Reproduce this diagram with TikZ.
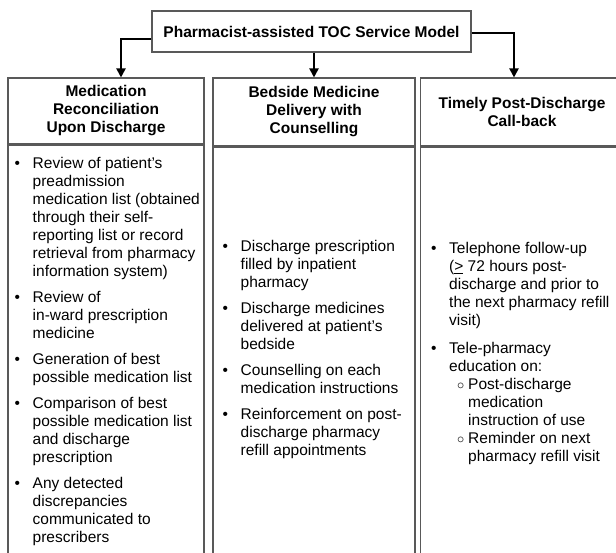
\documentclass[tikz,border=0pt]{standalone}
\usepackage{fontspec}
\setmainfont{Liberation Sans}
\usepackage{array}
\usetikzlibrary{arrows.meta, positioning}

\newcommand{\txtsize}{\fontsize{15.5}{18}\selectfont}
\tikzset{
  frame/.style={draw=black!65, line width=1.1pt},
  headcell/.style={frame, font=\txtsize\bfseries, align=center, inner sep=0pt},
  bodycell/.style={frame, inner sep=0pt},
  itemlist/.style={anchor=north west, inner sep=0pt, align=left},
  flow/.style={line width=2pt, -{Triangle[width=9pt,length=9pt]}},
}
\newcommand{\bl}{\textbullet}
\newcommand{\sbl}{\hspace*{8pt}\makebox[11pt][l]{$\circ$}}
\newcommand{\sind}{\hspace*{19pt}}

\begin{document}
\begin{tikzpicture}[x=1pt, y=-1pt, font=\txtsize]
  \useasboundingbox (0,0) rectangle (616,552);
  \clip (0,0) rectangle (616,552);

  % Title
  \node[frame, font=\txtsize\bfseries, minimum width=319pt, minimum height=41pt, inner sep=0pt]
    (model) at (311.5,31.5) {Pharmacist-assisted TOC Service Model};

  % Column headers
  \node[headcell, minimum width=196pt, minimum height=66pt] (recon) at (106,111)
    {Medication\\Reconciliation\\Upon Discharge};
  \node[headcell, minimum width=202pt, minimum height=68pt] (delivery) at (314,112)
    {Bedside Medicine\\Delivery with\\Counselling};
  \node[headcell, minimum width=203pt, minimum height=68pt] (callback) at (522,112)
    {Timely Post-Discharge\\Call-back};

  % Column bodies
  \node[bodycell, minimum width=196pt, minimum height=460pt, anchor=north] (reconbody) at (recon.south) {};
  \node[bodycell, minimum width=202pt, minimum height=460pt, anchor=north] (deliverybody) at (delivery.south) {};
  \node[bodycell, minimum width=203pt, minimum height=460pt, anchor=north] (callbackbody) at (callback.south) {};

  % Arrows from the model
  \draw[flow] ([yshift=-7.5pt]model.west) -| ([xshift=15pt]recon.north);
  \draw[flow] (delivery.north |- model.south) -- (delivery.north);
  \draw[flow] ([yshift=-1.5pt]model.east) -| ([xshift=-8pt]callback.north);

  % Lists
  \node[itemlist] (reconlist) at (14.5,156) {%
    \begin{tabular}{@{}p{18pt}@{}l@{}}
      \bl & Review of patient’s\\
          & preadmission\\
          & medication list (obtained\\
          & through their self-\\
          & reporting list or record\\
          & retrieval from pharmacy\\
          & information system)\\[8pt]
      \bl & Review of\\
          & in-ward prescription\\
          & medicine\\[8pt]
      \bl & Generation of best\\
          & possible medication list\\[8pt]
      \bl & Comparison of best\\
          & possible medication list\\
          & and discharge\\
          & prescription\\[8pt]
      \bl & Any detected\\
          & discrepancies\\
          & communicated to\\
          & prescribers
    \end{tabular}};

  \node[itemlist] (deliverylist) at (222.5,239) {%
    \begin{tabular}{@{}p{18pt}@{}l@{}}
      \bl & Discharge prescription\\
          & filled by inpatient\\
          & pharmacy\\[8pt]
      \bl & Discharge medicines\\
          & delivered at patient’s\\
          & bedside\\[8pt]
      \bl & Counselling on each\\
          & medication instructions\\[8pt]
      \bl & Reinforcement on post-\\
          & discharge pharmacy\\
          & refill appointments
    \end{tabular}};

  \node[itemlist] (callbacklist) at (431,241) {%
    \begin{tabular}{@{}p{18pt}@{}l@{}}
      \bl & Telephone follow-up\\
          & (\underline{>} 72 hours post-\\
          & discharge and prior to\\
          & the next pharmacy refill\\
          & visit)\\[10pt]
      \bl & Tele-pharmacy\\
          & education on:\\
          & \sbl Post-discharge\\
          & \sind medication\\
          & \sind instruction of use\\
          & \sbl Reminder on next\\
          & \sind pharmacy refill visit
    \end{tabular}};
\end{tikzpicture}
\end{document}
